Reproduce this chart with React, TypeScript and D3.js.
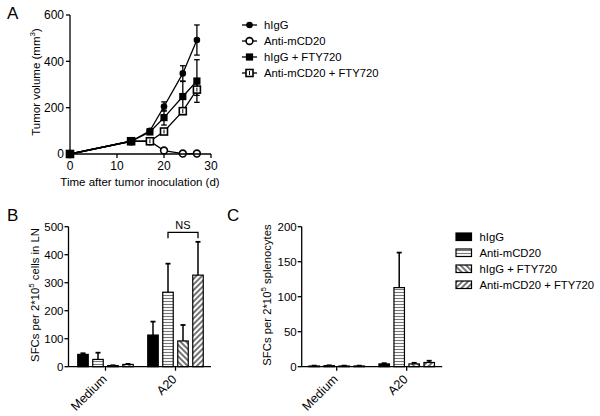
import React from "react";
import * as d3 from "d3";

// ---------- Data ----------
const seriesNames = ["hIgG", "Anti-mCD20", "hIgG + FTY720", "Anti-mCD20 + FTY720"];

// Panel A: tumor volume over time
const daysA = [0, 13, 17, 20, 24, 27];
const volHIgG = [0, 55, 100, 205, 348, 492];
const errHIgG = [0, 0, 8, 20, 33, 65];
const volAnti = [0, 55, 55, 15, 2, 2];
const errAnti = [0, 0, 0, 5, 0, 0];
const volHIgGFty = [0, 55, 95, 157, 248, 315];
const errHIgGFty = [0, 0, 6, 32, 65, 92];
const volAntiFty = [0, 55, 55, 97, 185, 278];
const errAntiFty = [0, 0, 0, 8, 15, 25];
const xTicksA = [0, 10, 20, 30];
const yTicksA = [0, 200, 400, 600];

// Panel B: SFCs per 2*10^5 cells in LN
const categories = ["Medium", "A20"];
const sfcLNMedium = [44, 26, 4, 8];
const sfcLNMediumErr = [4, 24, 1, 2];
const sfcLNA20 = [113, 266, 92, 327];
const sfcLNA20Err = [48, 102, 57, 119];
const yTicksB = [0, 100, 200, 300, 400, 500];

// Panel C: SFCs per 2*10^5 splenocytes
const sfcSpMedium = [1, 1.5, 1, 1];
const sfcSpMediumErr = [0.5, 0.5, 0.5, 0.5];
const sfcSpA20 = [4, 113, 4, 6];
const sfcSpA20Err = [1, 50, 1.5, 2.5];
const yTicksC = [0, 50, 100, 150, 200];

const FONT = "'Liberation Sans', Arial, Helvetica, sans-serif";
const fills = ["#000", "url(#hstripe)", "url(#bdiag)", "url(#fdiag)"];
// order in which series markers are stacked (last on top)
const drawOrder = [0, 1, 3, 2];

function Marker({ kind, x, y }: { kind: number; x: number; y: number }) {
  if (kind === 0) return <circle cx={x} cy={y} r={3.3} fill="#000" />;
  if (kind === 1) return <circle cx={x} cy={y} r={3.4} fill="#fff" stroke="#000" strokeWidth={1.6} />;
  if (kind === 2) return <rect x={x - 3.6} y={y - 3.6} width={7.2} height={7.2} fill="#000" />;
  return (
    <g>
      <rect x={x - 3.5} y={y - 3.5} width={7} height={7} fill="#fff" stroke="#000" strokeWidth={1.6} />
      <line x1={x} x2={x} y1={y - 2} y2={y + 2} stroke="#000" strokeWidth={1} />
    </g>
  );
}

function PanelA() {
  const x = d3.scaleLinear().domain([0, 30]).range([70, 211]);
  const y = d3.scaleLinear().domain([0, 600]).range([154, 15]);
  const vals = [volHIgG, volAnti, volHIgGFty, volAntiFty];
  const errs = [errHIgG, errAnti, errHIgGFty, errAntiFty];
  const line = d3
    .line<number>()
    .x((_, i) => x(daysA[i]))
    .y((d) => y(d));
  return (
    <g>
      <text x={7} y={19} fontSize={17} fontFamily={FONT}>A</text>
      {/* error bars */}
      {vals.map((vs, s) =>
        vs.map((v, i) =>
          errs[s][i] > 0 ? (
            <g key={`e${s}-${i}`} stroke="#000" strokeWidth={1.3}>
              <line x1={x(daysA[i])} x2={x(daysA[i])} y1={y(v - errs[s][i])} y2={y(v + errs[s][i])} />
              <line x1={x(daysA[i]) - 2.8} x2={x(daysA[i]) + 2.8} y1={y(v + errs[s][i])} y2={y(v + errs[s][i])} />
              <line x1={x(daysA[i]) - 2.8} x2={x(daysA[i]) + 2.8} y1={y(v - errs[s][i])} y2={y(v - errs[s][i])} />
            </g>
          ) : null
        )
      )}
      {vals.map((vs, s) => (
        <path key={`l${s}`} d={line(vs) || ""} fill="none" stroke="#000" strokeWidth={1.3} />
      ))}
      {drawOrder.map((s) =>
        vals[s].map((v, i) => <Marker key={`m${s}-${i}`} kind={s} x={x(daysA[i])} y={y(v)} />)
      )}
      {/* axes */}
      <line x1={70} x2={70} y1={y(600)} y2={y(0)} stroke="#000" strokeWidth={1.3} />
      <line x1={70} x2={211} y1={154} y2={154} stroke="#000" strokeWidth={1.3} />
      {yTicksA.map((t) => (
        <g key={`yt${t}`}>
          <line x1={66} x2={70} y1={y(t)} y2={y(t)} stroke="#000" strokeWidth={1.3} />
          <text x={64} y={y(t)} dy="0.35em" textAnchor="end" fontSize={12} fontFamily={FONT}>{t}</text>
        </g>
      ))}
      {xTicksA.map((t) => (
        <g key={`xt${t}`}>
          <line x1={x(t)} x2={x(t)} y1={154} y2={158} stroke="#000" strokeWidth={1.3} />
          <text x={x(t)} y={170} textAnchor="middle" fontSize={12} fontFamily={FONT}>{t}</text>
        </g>
      ))}
      <text x={140} y={186} textAnchor="middle" fontSize={11.5} fontFamily={FONT}>Time after tumor inoculation (d)</text>
      <text transform={`translate(40,82) rotate(-90)`} textAnchor="middle" fontSize={11.5} fontFamily={FONT}>
        Tumor volume (mm<tspan fontSize={8} dy={-5}>3</tspan><tspan dy={5}>)</tspan>
      </text>
      {/* legend */}
      {seriesNames.map((n, i) => (
        <g key={`lg${i}`}>
          <line x1={242} x2={257} y1={25 + i * 16} y2={25 + i * 16} stroke="#000" strokeWidth={1.3} />
          <Marker kind={i} x={249.5} y={25 + i * 16} />
          <text x={264} y={25 + i * 16} dy="0.35em" fontSize={11.3} fontFamily={FONT}>{n}</text>
        </g>
      ))}
    </g>
  );
}

function BarPanel({
  axisX,
  rangeX,
  yMax,
  ticks,
  medium,
  mediumErr,
  a20,
  a20Err,
}: {
  axisX: number;
  rangeX: [number, number];
  yMax: number;
  ticks: number[];
  medium: number[];
  mediumErr: number[];
  a20: number[];
  a20Err: number[];
}) {
  const y = d3.scaleLinear().domain([0, yMax]).range([366.7, 226.7]);
  const x = d3.scaleBand<string>().domain(categories).range(rangeX);
  const inner = d3.scalePoint<string>().domain(seriesNames).range([-22.5, 22.5]);
  const bw = 10.5;
  const groups = [
    { cat: "Medium", v: medium, e: mediumErr },
    { cat: "A20", v: a20, e: a20Err },
  ];
  return (
    <g>
      {groups.map((g) =>
        g.v.map((v, i) => {
          const cx = (x(g.cat) || 0) + x.bandwidth() / 2 + (inner(seriesNames[i]) || 0);
          const top = y(v + g.e[i]);
          return (
            <g key={`${g.cat}-${i}`}>
              <line x1={cx} x2={cx} y1={y(v)} y2={top} stroke="#000" strokeWidth={1.5} />
              <line x1={cx - 2.5} x2={cx + 2.5} y1={top} y2={top} stroke="#000" strokeWidth={1.8} />
              <rect
                x={cx - bw / 2}
                y={y(v)}
                width={bw}
                height={Math.max(0.5, y(0) - y(v))}
                fill={fills[i]}
                stroke="#000"
                strokeWidth={1.2}
              />
            </g>
          );
        })
      )}
      <line x1={axisX} x2={axisX} y1={226.7} y2={366.7} stroke="#000" strokeWidth={1.3} />
      <line x1={axisX} x2={rangeX[1] + 0.5} y1={366.7} y2={366.7} stroke="#000" strokeWidth={1.3} />
      {ticks.map((t) => (
        <g key={`t${t}`}>
          <line x1={axisX - 4} x2={axisX} y1={y(t)} y2={y(t)} stroke="#000" strokeWidth={1.3} />
          <text x={axisX - 5} y={y(t)} dy="0.35em" textAnchor="end" fontSize={11.5} fontFamily={FONT}>{t}</text>
        </g>
      ))}
      {categories.map((c) => {
        const cx = (x(c) || 0) + x.bandwidth() / 2;
        return (
          <g key={c}>
            <line x1={cx} x2={cx} y1={366.7} y2={370.7} stroke="#000" strokeWidth={1.3} />
            <text
              transform={`translate(${cx + 2},${380}) rotate(-45)`}
              textAnchor="end"
              fontSize={12.5}
              fontFamily={FONT}
            >
              {c}
            </text>
          </g>
        );
      })}
    </g>
  );
}

export default function App() {
  const xB = d3.scaleBand<string>().domain(categories).range([70.5, 210.5]);
  const innerB = d3.scalePoint<string>().domain(seriesNames).range([-22.5, 22.5]);
  const nsX1 = (xB("A20") || 0) + xB.bandwidth() / 2 + (innerB(seriesNames[1]) || 0);
  const nsX2 = (xB("A20") || 0) + xB.bandwidth() / 2 + (innerB(seriesNames[3]) || 0);
  return (
    <svg width={600} height={416} style={{ position: "absolute", left: 0, top: 0, background: "#fff" }}>
      <defs>
        <pattern id="hstripe" patternUnits="userSpaceOnUse" width={4} height={3}>
          <rect width={4} height={3} fill="#fff" />
          <line x1={0} x2={4} y1={1.5} y2={1.5} stroke="#777" strokeWidth={1.1} />
        </pattern>
        <pattern id="bdiag" patternUnits="userSpaceOnUse" width={4} height={4} patternTransform="rotate(-45)">
          <rect width={4} height={4} fill="#fff" />
          <line x1={2} x2={2} y1={0} y2={4} stroke="#000" strokeWidth={1.1} />
        </pattern>
        <pattern id="fdiag" patternUnits="userSpaceOnUse" width={4} height={4} patternTransform="rotate(45)">
          <rect width={4} height={4} fill="#fff" />
          <line x1={2} x2={2} y1={0} y2={4} stroke="#000" strokeWidth={1.1} />
        </pattern>
      </defs>
      <rect width={600} height={416} fill="#fff" />
      <PanelA />

      {/* Panel B */}
      <text x={7} y={221} fontSize={17} fontFamily={FONT}>B</text>
      <BarPanel
        axisX={68.5}
        rangeX={[70.5, 210.5]}
        yMax={500}
        ticks={yTicksB}
        medium={sfcLNMedium}
        mediumErr={sfcLNMediumErr}
        a20={sfcLNA20}
        a20Err={sfcLNA20Err}
      />
      <text transform="translate(39,295) rotate(-90)" textAnchor="middle" fontSize={11.3} fontFamily={FONT}>
        SFCs per 2*10<tspan fontSize={8} dy={-5}>5</tspan><tspan dy={5}> cells in LN</tspan>
      </text>
      <path
        d={`M${nsX1},238.3 V232.3 H${nsX2} V238.3`}
        fill="none"
        stroke="#000"
        strokeWidth={1.3}
      />
      <text x={(nsX1 + nsX2) / 2} y={228.5} textAnchor="middle" fontSize={11} fontFamily={FONT}>NS</text>

      {/* Panel C */}
      <text x={227} y={221} fontSize={17} fontFamily={FONT}>C</text>
      <BarPanel
        axisX={301.7}
        rangeX={[301.7, 441.7]}
        yMax={200}
        ticks={yTicksC}
        medium={sfcSpMedium}
        mediumErr={sfcSpMediumErr}
        a20={sfcSpA20}
        a20Err={sfcSpA20Err}
      />
      <text transform="translate(271,295) rotate(-90)" textAnchor="middle" fontSize={11.3} fontFamily={FONT}>
        SFCs per 2*10<tspan fontSize={8} dy={-5}>5</tspan><tspan dy={5}> splenocytes</tspan>
      </text>
      {seriesNames.map((n, i) => (
        <g key={`lc${i}`}>
          <rect x={456} y={233 + i * 16} width={15.5} height={7.5} fill={fills[i]} stroke="#000" strokeWidth={1.2} />
          <text x={479.5} y={237 + i * 16} dy="0.35em" fontSize={11.3} fontFamily={FONT}>{n}</text>
        </g>
      ))}
    </svg>
  );
}
